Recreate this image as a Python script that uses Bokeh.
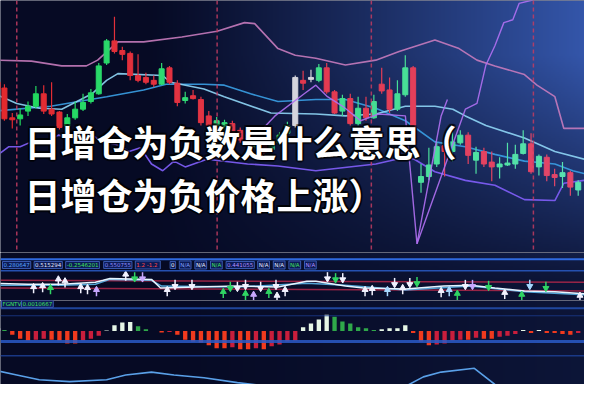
import numpy as np
from bokeh.plotting import figure
from bokeh.models import Range1d, Span, Label
from bokeh.layouts import column
from bokeh.embed import file_html
from bokeh.resources import INLINE

# ---------------- data ----------------
title_lines = ["日增仓为负数是什么意思（", "日增仓为负价格上涨）"]

opens = [17.5, 16.9, 13.8, 13.7, 14.5, 15.0, 16.3, 14.7, 14.4, 12.4,
         13.8, 14.7, 15.5, 16.3, 19.5, 21.8, 20.8, 20.5, 18.2, 18.0,
         17.7, 17.3, 19.0, 17.4, 15.6, 16.1, 15.7,
         14.0, 12.8, 12.7, 13.2, 12.5, 12.0, 10.8, 11.0, 10.5, 11.2, 12.2,
         13.0, 17.7, 17.8, 17.7, 19.0, 16.5, 14.5, 15.8, 13.2, 14.8, 13.8, 17.3, 16.7, 14.7, 16.2, 19.0,
         7.1, 7.7, 9.0, 10.9, 10.3, 11.2, 12.0, 9.4, 10.3, 9.2, 8.7, 8.9, 9.0, 10.1, 11.1, 8.7, 9.7, 7.9, 7.7, 8.1, 6.3]
closes = [16.8, 13.7, 13.6, 14.1, 15.0, 16.3, 14.5, 14.2, 12.8, 13.8,
          14.7, 15.4, 16.4, 19.2, 21.8, 20.7, 20.4, 18.2, 17.7, 17.5,
          17.3, 18.9, 17.5, 15.4, 15.9, 15.8, 13.3,
          13.0, 13.5, 13.3, 12.0, 11.5, 11.0, 11.5, 10.2, 11.2, 12.0, 13.0,
          18.0, 17.4, 18.0, 19.0, 16.5, 14.3, 15.8, 13.2, 14.8, 13.8, 15.5, 16.6, 14.7, 16.3, 19.0, 12.7,
          7.7, 8.9, 10.8, 10.3, 11.3, 12.0, 9.9, 10.2, 9.0, 8.7, 9.0, 9.1, 10.0, 11.1, 8.2, 9.8, 7.8, 7.6, 8.1, 6.6, 7.1]
highs = [17.8, 17.3, 14.3, 14.8, 15.5, 17.1, 17.2, 17.5, 14.5, 14.2,
         15.5, 16.3, 16.8, 19.5, 22.0, 24.3, 21.2, 20.7, 20.4, 18.5,
         18.2, 19.5, 19.2, 17.7, 16.5, 16.7, 16.0,
         14.5, 13.9, 13.6, 13.5, 12.8, 12.3, 11.8, 11.3, 11.5, 12.3, 13.4,
         18.2, 18.7, 18.8, 19.4, 19.5, 16.7, 16.2, 16.3, 16.0, 16.0, 16.2, 19.0, 18.0, 17.7, 20.3, 19.2,
         9.0, 10.7, 11.3, 11.7, 12.3, 12.5, 12.3, 10.8, 10.7, 10.3, 9.7, 11.2, 11.0, 12.5, 12.2, 10.0, 10.0, 8.5, 9.2, 8.3, 7.3]
lows = [16.5, 13.5, 12.7, 13.0, 14.0, 14.8, 14.2, 14.0, 12.6, 12.2,
        13.6, 14.5, 15.3, 16.2, 19.3, 20.5, 19.8, 17.7, 17.5, 17.3,
        17.0, 17.2, 17.3, 15.0, 15.3, 15.7, 13.0,
        12.7, 12.5, 12.4, 11.8, 11.2, 10.7, 10.6, 9.9, 10.3, 11.0, 12.0,
        12.8, 16.7, 17.5, 17.5, 16.3, 14.2, 14.0, 13.0, 13.0, 13.5, 13.7, 16.3, 14.3, 14.5, 16.0, 12.5,
        6.0, 7.3, 8.7, 7.7, 9.3, 11.0, 9.0, 8.0, 8.7, 7.2, 7.5, 8.8, 8.5, 10.0, 8.0, 7.8, 7.2, 6.7, 6.5, 5.7, 5.7]
white_candles = [38, 40]

upper_x = [-0.29, 4.43, 8.29, 11.43, 12.86, 15.43, 18.71, 23.57, 28.06, 31.55, 32.84, 35.8, 38.0,
           40.62, 44.38, 48.25, 51.21, 55.77, 58.84, 61.12, 63.4, 67.16, 68.75, 71.03, 72.17, 74.79]
upper_y = [19.8, 19.7, 19.2, 19.2, 19.8, 21.7, 21.7, 22.2, 22.8, 23.7, 23.6, 21.0, 20.3,
           20.0, 19.3, 19.8, 20.7, 21.9, 21.0, 19.8, 19.2, 18.3, 17.2, 16.0, 12.7, 12.7]

ma_a_x = [-0.29, 2.57, 5.43, 8.29, 12.14, 14.0, 15.43, 21.14, 22.14, 26.39, 28.97, 34.9,
          40.62, 44.38, 48.25, 52.01, 55.77, 58.05, 59.64, 62.26, 67.16, 71.03, 74.79]
ma_a_y = [16.3, 15.3, 14.8, 14.7, 16.3, 17.7, 18.4, 18.2, 17.5, 16.8, 16.0, 14.3,
          14.2, 14.0, 14.2, 15.0, 15.0, 14.7, 14.0, 13.0, 11.7, 10.3, 9.5]

ma_b_x = [-0.29, 6.86, 14.0, 18.71, 21.57, 26.39, 28.97, 32.32, 35.8, 40.62, 44.38, 48.25,
          52.01, 55.77, 59.64, 63.4, 67.16, 71.03, 73.31, 74.79]
ma_b_y = [14.5, 15.0, 16.0, 16.7, 17.3, 17.3, 17.2, 16.3, 15.5, 15.7, 15.7, 14.8,
          13.5, 11.3, 10.8, 10.0, 9.3, 9.0, 8.3, 8.0]

lower_x = [-0.29, 1.57, 3.0, 4.43, 6.43, 7.86, 9.71, 12.14, 13.57, 15.43, 16.86, 18.29, 19.71,
           21.14, 22.57, 24.0, 26.77, 31.93, 35.8, 40.62, 48.25, 52.01, 53.15, 55.77, 59.64,
           63.4, 67.16, 71.03, 72.17, 74.79]
lower_y = [9.7, 10.8, 10.8, 11.3, 11.3, 12.0, 11.7, 12.0, 11.3, 11.0, 10.3, 10.7, 9.0,
           8.3, 9.3, 8.7, 9.5, 9.0, 8.8, 8.3, 9.0, 9.7, 9.5, 8.2, 7.3,
           6.8, 5.3, 5.2, 7.0, 7.3]

fast_a_x = [31.93, 35.42, 39.14, 40.62, 42.1, 44.04, 46.31, 48.59, 52.01, 53.49, 56.56, 57.36]
fast_a_y = [11.0, 14.0, 16.3, 17.2, 16.0, 15.0, 13.5, 14.2, 14.0, 0.7, 14.0, 15.7]
fast_b_x = [53.49, 59.64, 61.12, 62.26, 63.4, 64.54, 65.68, 66.48, 67.95, 70.23]
fast_b_y = [0.7, 14.7, 15.3, 19.3, 21.3, 23.7, 24.0, 25.7, 26.0, 26.5]

period_marks = [2.57, 28.06, 47.68, 68.3]

# signal panel
sig_x = [-0.29, 4.0, 8.29, 12.57, 13.57, 14.43, 19.71, 20.86, 25.43, 30.64, 35.8, 39.48, 40.62,
         44.38, 46.66, 52.01, 56.91, 60.32, 63.4, 67.16, 71.03, 74.79]
sig_y = [0.6, 0.5, 0.5, 0.7, 0.9, 1.1, 1.0, 0.1, 0.2, 0.3, 0.2, 0.8, 0.8,
         0.3, 0.1, 0.0, 0.3, 0.4, 0.1, -0.2, -0.3, -0.5]
sig2_x = [-0.29, 8.29, 12.57, 14.43, 19.71, 21.0, 30.64, 39.48, 44.38, 52.01, 60.32, 67.16, 74.79]
sig2_y = [0.4, 0.4, 0.5, 1.0, 0.9, 0.3, 0.2, 0.6, 0.4, -0.1, 0.3, -0.3, -0.6]
band_hi = [0.9, 0.7]
band_lo = [0.1, -0.2]

arrow_x = [4.71, 5.86, 6.86, 7.86, 8.71, 10.71, 11.57, 12.71, 16.43, 17.57, 18.57, 21.71, 22.71, 24.86,
           28.84, 29.74, 30.64, 31.67, 31.67, 32.7, 33.6, 34.64, 35.55, 35.68, 36.71,
           42.1, 43.13, 44.04, 46.88, 47.79, 49.73, 50.64, 51.67, 52.58, 53.49, 56.56, 57.59, 58.62,
           59.64, 60.55, 62.6, 64.65, 66.82, 67.84, 69.89, 74.22]
arrow_y = [0.0, 0.1, -0.1, 0.8, 0.6, 0.0, -0.1, -0.3, 1.3, 1.3, 1.3, -0.3, 0.5, 0.5,
           -0.5, 0.3, 0.3, 0.5, -0.7, -0.8, 0.3, -0.5, 0.5, -0.9, -0.3,
           1.3, 1.2, 1.2, -0.3, -0.2, -0.3, 0.7, -0.1, 0.7, 0.8, -0.4, -0.3, -0.7,
           0.5, 0.5, 0.4, -0.6, -0.8, 0.5, 0.3, -0.9]
arrow_dir = ["u", "u", "u", "u", "u", "u", "u", "u", "u", "d", "d", "u", "d", "d",
             "u", "d", "d", "d", "u", "u", "d", "u", "d", "u", "u",
             "d", "d", "d", "u", "u", "u", "d", "u", "d", "d", "u", "u", "u",
             "d", "d", "d", "u", "u", "d", "d", "u"]
arrow_kind = ["w", "w", "g", "w", "w", "w", "w", "l", "w", "g", "l", "w", "w", "w",
              "g", "g", "w", "w", "g", "l", "w", "g", "w", "w", "w",
              "w", "g", "w", "w", "w", "b", "w", "w", "w", "g", "w", "b", "g",
              "w", "l", "g", "w", "g", "b", "g", "w"]

readouts = ["0.280647", "0.515294", "-0.2546201", "0.550755", "1.2  -1.2", "0", "N/A", "N/A", "N/A",
            "0.441055", "N/A", "N/A", "N/A", "N/A"]
readout_colors = ["#5aa8ff", "#e0e8ff", "#40e060", "#8f8fff", "#ff4a4a", "#ffffff", "#80a0ff", "#e0e8ff",
                  "#40e060", "#b090ff", "#e0e8ff", "#e0e8ff", "#40e060", "#b090ff"]

hist = [3, 1, -4, -8, -10, -9, -8, -9, -10, -13,
        -13, -10, -8, -5, 0.5, 6, 9, 9.5, 5, 2,
        0, -1.5, -1, -4, -9, -11, -12, -15, -18, -18,
        -17, -19, -19, -18, -19, -16, -14, -11, -10, 4,
        8, 12, 17, 15, 10, 8, 4, 3, 1, 2,
        3, 3, 6, -2, -11, -15, -14, -13, -10, -9,
        -9, -7, -8, -8, -6, -5, -3, 1, -2, 1,
        -2, -2, -3, -4, -2]
osc_a_x = [-0.29, 2.57, 5.43, 9.29, 14.0, 16.43, 19.71, 22.57, 26.39, 30.64, 35.8]
osc_a_y = [-41, -46, -51, -53, -51, -46, -43, -46, -49, -54, -59]
osc_b_x = [52.01, 54.3, 56.56, 60.78, 63.4, 64.54]
osc_b_y = [-58, -48, -43, -39, -56, -61]

# ---------------- helpers ----------------
W = 584
XR = Range1d(0.5, 74.8)
n = len(opens)
idx = np.arange(n)


def bg_image(w_px, h_px, y_top, y_bot):
    xs = np.linspace(0, 600, w_px)
    ys = np.linspace(y_bot, y_top, h_px)
    X, Y = np.meshgrid(xs, ys)
    wx = np.clip((X - 150) / 450, 0, 1) ** 1.15
    wy = np.clip(1.2 - Y / 280, 0.15, 1)
    w = wx * wy
    dark = (6, 10, 36)
    light = (52, 86, 170)
    img = np.empty((h_px, w_px), dtype=np.uint32)
    view = img.view(dtype=np.uint8).reshape((h_px, w_px, 4))
    for k in range(3):
        view[:, :, k] = (dark[k] + (light[k] - dark[k]) * w).astype(np.uint8)
    view[:, :, 3] = 255
    return img


def make_fig(h, y0, y1, ref_top, ref_bot):
    p = figure(width=W, height=h, x_range=XR, y_range=Range1d(y0, y1),
               output_backend="svg", toolbar_location=None, min_border=0,
               x_axis_location=None, y_axis_location=None)
    p.grid.visible = False
    p.outline_line_color = None
    p.background_fill_color = "#070b26"
    p.border_fill_color = "#070b26"
    img = bg_image(W // 2, h // 2, ref_top, ref_bot)
    p.image_rgba(image=[img], x=XR.start, y=y0, dw=XR.end - XR.start, dh=y1 - y0)
    return p


def blend(c1, c2, t):
    a = [int(c1[i:i + 2], 16) for i in (1, 3, 5)]
    b = [int(c2[i:i + 2], 16) for i in (1, 3, 5)]
    return "#%02x%02x%02x" % tuple(int(a[k] + (b[k] - a[k]) * t) for k in range(3))

# ---------------- price panel ----------------
p1 = make_fig(252, -0.2, 26.0, 0, 262)

for m in period_marks:
    p1.add_layout(Span(location=m, dimension="height", line_color="#c23c62",
                       line_dash="4 3", line_width=1.5, line_alpha=0.85))

p1.line(upper_x, upper_y, line_color="#c77bbd", line_width=1.6, line_alpha=0.9)
p1.line(lower_x, lower_y, line_color="#7c5cf2", line_width=1.6, line_alpha=0.95)
p1.line(ma_b_x, ma_b_y, line_color="#3aa0e6", line_width=1.6, line_alpha=0.9)
p1.line(ma_a_x, ma_a_y, line_color="#8fd6f6", line_width=1.6, line_alpha=0.9)

colors = []
for i in range(n):
    t = i / (n - 1)
    if i in white_candles:
        colors.append("#d4d4dc")
    elif closes[i] >= opens[i]:
        colors.append(blend("#1fd85a", "#5ae2b2", t))
    else:
        colors.append(blend("#e22a2e", "#e4486c", t))
tops = [max(o, c) for o, c in zip(opens, closes)]
bots = [min(o, c) for o, c in zip(opens, closes)]
p1.segment(x0=idx, y0=lows, x1=idx, y1=highs, line_color=colors, line_width=1.2)
p1.vbar(x=idx, width=0.64, top=tops, bottom=bots, fill_color=colors, line_color=colors)

p1.line(fast_a_x, fast_a_y, line_color="#b070f2", line_width=1.4, line_alpha=0.9)
p1.line(fast_b_x, fast_b_y, line_color="#b070f2", line_width=1.4, line_alpha=0.9)

title_y = [111.6, 58.7]
for line, ty in zip(title_lines, title_y):
    for dx, dy in [(-2, 0), (2, 0), (0, -2), (0, 2), (-1.5, -1.5), (1.5, 1.5), (-1.5, 1.5), (1.5, -1.5)]:
        p1.add_layout(Label(x=24 + dx, y=ty + dy, x_units="screen", y_units="screen", text=line,
                            text_font="Noto Sans CJK SC", text_font_style="bold",
                            text_font_size="36px", text_color="#000000", text_alpha=0.55,
                            text_baseline="middle", text_align="left"))
    p1.add_layout(Label(x=24, y=ty, x_units="screen", y_units="screen", text=line,
                        text_font="Noto Sans CJK SC", text_font_style="bold",
                        text_font_size="36px", text_color="#ffffff",
                        text_baseline="middle", text_align="left"))

# ---------------- signal panel ----------------
p2 = make_fig(48, -1.2, 3.8, 262, 312)
p2.add_layout(Span(location=3.1, dimension="width", line_color="#2f6ae0", line_width=2))
p2.add_layout(Span(location=1.9, dimension="width", line_color="#2550b0", line_width=1.5))
p2.line([XR.start, XR.end], band_hi, line_color="#b0284a", line_width=1.5, line_alpha=0.85)
p2.line([XR.start, XR.end], band_lo, line_color="#b0284a", line_width=1.5, line_alpha=0.85)
p2.line(sig2_x, sig2_y, line_color="#5ab4e8", line_width=1.5, line_alpha=0.9)
p2.line(sig_x, sig_y, line_color="#e6f4ff", line_width=1.5)

kind_col = {"w": "#f2f2ff", "g": "#30d464", "l": "#c8a8ff", "b": "#a8d8ff"}
ac = [kind_col[k] for k in arrow_kind]
sgn = np.array([1 if d == "u" else -1 for d in arrow_dir])
ay = np.array(arrow_y)
p2.segment(x0=arrow_x, y0=ay - 0.45 * sgn, x1=arrow_x, y1=ay + 0.05 * sgn, line_color=ac, line_width=1.5)
p2.scatter(x=arrow_x, y=ay + 0.22 * sgn, size=6,
           marker=["triangle" if d == "u" else "inverted_triangle" for d in arrow_dir],
           fill_color=ac, line_color=ac)

rx = 2
for txt, col in zip(readouts, readout_colors):
    p2.add_layout(Label(x=rx, y=2.5, x_units="screen", text=txt, text_font="DejaVu Sans",
                        text_font_size="5.5px", text_color=col, text_baseline="middle",
                        background_fill_color="#0c1a55", border_line_color="#3a5ab0",
                        padding=1))
    rx += len(txt) * 3.2 + 6

# ---------------- histogram panel ----------------
p3 = make_fig(84, -56, 32, 312, 400)
for loc, col, lw in [(24, "#2550b0", 2), (16, "#1a3a8a", 1), (-11, "#2a5ac8", 3), (-26, "#1d3f95", 1.5)]:
    p3.add_layout(Span(location=loc, dimension="width", line_color=col, line_width=lw, line_alpha=0.85))

hcol = []
for i, v in enumerate(hist):
    prev = hist[i - 1] if i > 0 else 0
    if v >= 0:
        hcol.append("#e6f6e6" if v >= prev else "#2fa84a")
    else:
        hcol.append("#f03a1e" if v <= prev else "#c81e3c")
p3.vbar(x=idx, width=0.55, top=hist, bottom=0, fill_color=hcol, line_color=None)
p3.line(osc_a_x, osc_a_y, line_color="#5aa0e8", line_width=1.6)
p3.line(osc_b_x, osc_b_y, line_color="#5aa0e8", line_width=1.6)

p3.add_layout(Label(x=1, y=28.5, x_units="screen", text="FGNTVALI", text_font="DejaVu Sans",
                    text_font_size="5.5px", text_color="#40e060", text_baseline="middle",
                    background_fill_color="#0c1a55", border_line_color="#3a5ab0", padding=1))
p3.add_layout(Label(x=21, y=28.5, x_units="screen", text="0.0010667", text_font="DejaVu Sans",
                    text_font_size="5.5px", text_color="#40e060", text_baseline="middle",
                    background_fill_color="#0c1a55", border_line_color="#3a5ab0", padding=1))

layout = column(p1, p2, p3, spacing=0)
open("out.html", "w").write(file_html(layout, INLINE, title="chart"))
